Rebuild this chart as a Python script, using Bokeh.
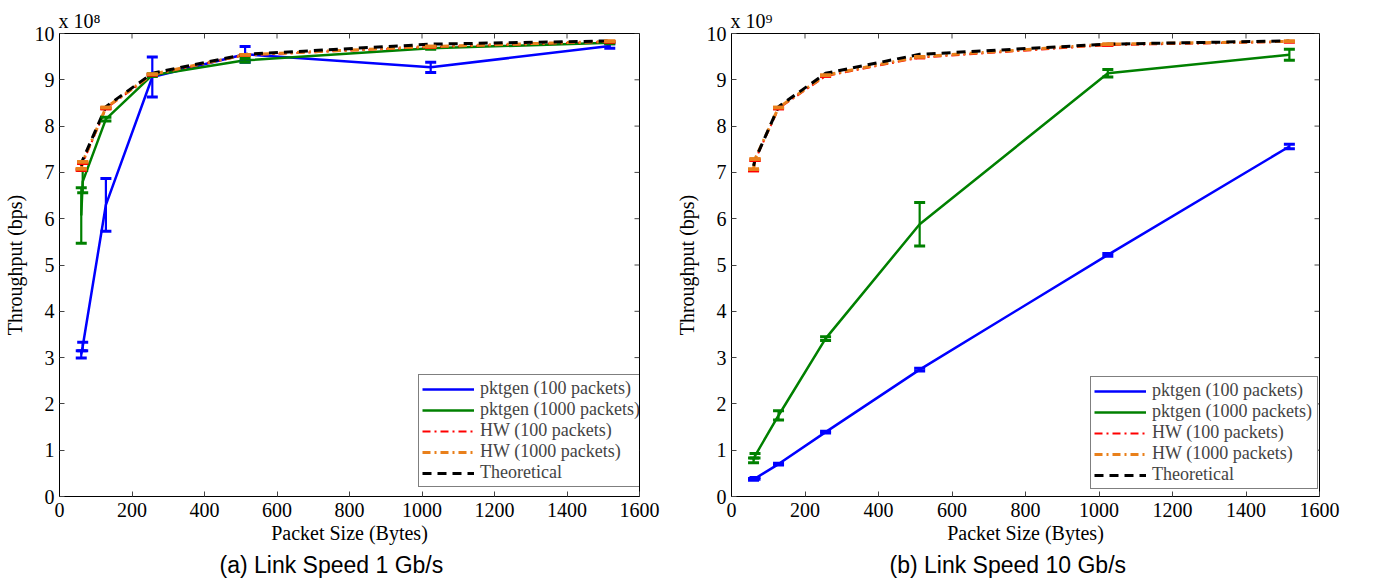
from bokeh.plotting import figure
from bokeh.models import ColumnDataSource, Whisker, TeeHead, Range1d, Title
from bokeh.layouts import row
from bokeh.embed import file_html
from bokeh.resources import INLINE

# ---------------- data ----------------
packet_sizes = [60, 64, 128, 256, 512, 1024, 1518]
x_ticks = [0, 200, 400, 600, 800, 1000, 1200, 1400, 1600]
y_ticks = [0, 1, 2, 3, 4, 5, 6, 7, 8, 9, 10]
series_names = ["pktgen (100 packets)", "pktgen (1000 packets)",
                "HW (100 packets)", "HW (1000 packets)", "Theoretical"]

# (a) 1 Gb/s, values in units of 1e8 bps
a_pktgen100 = [3.07, 3.24, 6.30, 9.06, 9.55, 9.27, 9.73]
a_pktgen100_err = [0.08, 0.09, 0.57, 0.43, 0.17, 0.11, 0.05]
a_pktgen1000 = [6.07, 6.80, 8.15, 9.10, 9.42, 9.68, 9.80]
a_pktgen1000_err = [0.60, 0.24, 0.04, 0.03, 0.04, 0.02, 0.02]
a_hw100 = [7.05, 7.20, 8.38, 9.11, 9.53, 9.71, 9.82]
a_hw1000 = [7.08, 7.23, 8.40, 9.12, 9.54, 9.72, 9.83]
a_theory = [7.14, 7.27, 8.42, 9.14, 9.55, 9.77, 9.84]

# (b) 10 Gb/s, values in units of 1e9 bps
b_pktgen100 = [0.37, 0.39, 0.70, 1.39, 2.74, 5.22, 7.56]
b_pktgen100_err = [0.02, 0.02, 0.02, 0.02, 0.03, 0.03, 0.05]
b_pktgen1000 = [0.78, 0.88, 1.75, 3.41, 5.88, 9.14, 9.54]
b_pktgen1000_err = [0.05, 0.05, 0.10, 0.04, 0.47, 0.08, 0.12]
b_hw100 = [7.04, 7.26, 8.38, 9.08, 9.48, 9.75, 9.82]
b_hw1000 = [7.07, 7.29, 8.40, 9.10, 9.50, 9.77, 9.83]
b_theory = [7.14, 7.27, 8.42, 9.14, 9.55, 9.77, 9.84]

# ---------------- style ----------------
SERIF = "Liberation Serif"
SANS = "Liberation Sans"
BLUE = "#0000FF"
GREEN = "#008000"
RED = "#FF0000"
ORANGE = "#E9801B"
TICK = "#444444"


def add_err(p, xs, ys, errs, color, head_w=3, lw=2.2):
    src = ColumnDataSource(dict(x=xs,
                                upper=[y + e for y, e in zip(ys, errs)],
                                lower=[y - e for y, e in zip(ys, errs)]))
    w = Whisker(source=src, base="x", upper="upper", lower="lower",
                dimension="height", line_color=color, line_width=lw,
                upper_head=TeeHead(size=11, line_color=color, line_width=head_w),
                lower_head=TeeHead(size=11, line_color=color, line_width=head_w))
    w.level = "glyph"
    p.add_layout(w)


def panel(width, left, right, scale_text, caption, cap_offset,
          legend_x, legend_y, p100, e100, p1000, e1000, hw100, hw1000, theory):
    p = figure(width=width, height=580, x_range=Range1d(0, 1600),
               y_range=Range1d(0, 10), output_backend="svg",
               toolbar_location=None, min_border_left=left,
               min_border_right=right, min_border_top=33,
               min_border_bottom=84)
    p.grid.visible = False
    p.outline_line_color = "black"
    p.outline_line_width = 1

    for ax in (p.xaxis[0], p.yaxis[0]):
        ax.major_label_text_font = SERIF
        ax.major_label_text_font_size = "20px"
        ax.major_label_text_color = "black"
        ax.axis_label_text_font = SERIF
        ax.axis_label_text_font_size = "20px"
        ax.axis_label_text_font_style = "normal"
        ax.axis_label_text_color = "black"
        ax.major_tick_in = 5
        ax.major_tick_out = 0
        ax.minor_tick_line_color = None
        ax.major_tick_line_color = TICK
        ax.axis_line_color = "black"
    p.xaxis.ticker = x_ticks
    p.yaxis.ticker = y_ticks
    p.xaxis.axis_label = "Packet Size (Bytes)"
    p.yaxis.axis_label = "Throughput (bps)"
    p.xaxis.major_label_standoff = 6
    p.xaxis.axis_label_standoff = 2
    p.yaxis.major_label_standoff = 5
    p.yaxis.axis_label_standoff = 6

    # inward ticks on the top and right edges of the box (5 px long)
    p.ray(x=x_ticks, y=[10] * len(x_ticks), length=5, length_units="screen",
          angle=-90, angle_units="deg", line_color=TICK, line_width=1)
    p.ray(x=[1600] * len(y_ticks), y=y_ticks, length=5, length_units="screen",
          angle=180, angle_units="deg", line_color=TICK, line_width=1)

    # scale factor ("x 10^n") above the top-left corner
    p.add_layout(Title(text=scale_text, align="left", text_font=SERIF,
                       text_font_size="20px", text_font_style="normal",
                       text_color="black", standoff=4, offset=-1), "above")
    # sub-figure caption below the x-axis label
    p.add_layout(Title(text=caption, align="left", offset=cap_offset,
                       text_font=SANS, text_font_size="23px",
                       text_font_style="normal", text_color="black",
                       standoff=6), "below")

    xs = packet_sizes
    p.line(xs, p100, line_color=BLUE, line_width=2.5,
           legend_label=series_names[0])
    add_err(p, xs, p100, e100, BLUE)
    p.line(xs, p1000, line_color=GREEN, line_width=2.5,
           legend_label=series_names[1])
    add_err(p, xs, p1000, e1000, GREEN)
    p.line(xs, hw100, line_color=RED, line_width=2, line_dash="8 4 2 4",
           legend_label=series_names[2])
    add_err(p, xs, hw100, [0] * len(xs), RED, head_w=3.5)
    p.line(xs, hw1000, line_color=ORANGE, line_width=3, line_dash="8 4 2 4",
           legend_label=series_names[3])
    add_err(p, xs, hw1000, [0] * len(xs), ORANGE, head_w=3.5)
    p.line(xs, theory, line_color="black", line_width=3, line_dash="9 6",
           legend_label=series_names[4])

    lg = p.legend[0]
    lg.location = (legend_x, legend_y)
    lg.margin = 0
    lg.padding = 3
    lg.spacing = 0
    lg.glyph_width = 52
    lg.glyph_height = 20
    lg.label_standoff = 6
    lg.label_width = 162
    lg.label_text_font = SERIF
    lg.label_text_font_size = "18px"
    lg.label_height = 20
    lg.border_line_color = "black"
    lg.border_line_width = 1.5
    lg.background_fill_alpha = 1
    return p


p1 = panel(672, 52, 33, "x 10\u2078", "(a) Link Speed 1 Gb/s", 160, 359, 9,
           a_pktgen100, a_pktgen100_err, a_pktgen1000, a_pktgen1000_err,
           a_hw100, a_hw1000, a_theory)
p2 = panel(686, 58, 39, "x 10\u2079", "(b) Link Speed 10 Gb/s", 158, 359, 7,
           b_pktgen100, b_pktgen100_err, b_pktgen1000, b_pktgen1000_err,
           b_hw100, b_hw1000, b_theory)

layout = row(p1, p2)
open("out.html", "w").write(file_html(layout, INLINE))
